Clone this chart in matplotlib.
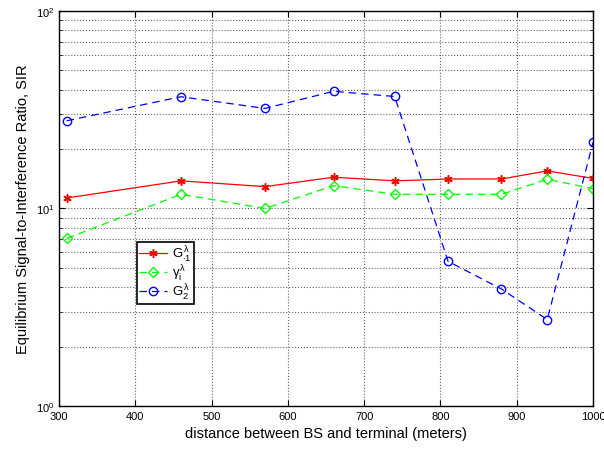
import numpy as np
import matplotlib
matplotlib.use("Agg")
import matplotlib.pyplot as plt
from matplotlib.ticker import LogLocator, NullFormatter, MultipleLocator

plt.rcParams['font.family'] = ['Liberation Sans', 'DejaVu Sans']
plt.rcParams['mathtext.fontset'] = 'custom'
plt.rcParams['mathtext.rm'] = 'Liberation Sans'
plt.rcParams['mathtext.it'] = 'Liberation Sans'

# --- DATA ---
distance = [310, 460, 570, 660, 740, 810, 880, 940, 1000]
sir_g1 = [11.3, 13.8, 12.9, 14.4, 13.8, 14.1, 14.1, 15.5, 14.2]
sir_gamma = [7.05, 11.8, 10.0, 13.05, 11.8, 11.8, 11.8, 14.05, 12.6]
sir_g2 = [27.8, 36.8, 32.1, 39.2, 36.9, 5.4, 3.91, 2.74, 21.6]
labels = [r'$G^{\lambda}_{\cdot 1}$', r'$\gamma_{\mathrm{i}}^{\lambda}$', r'$G^{\lambda}_{2}$']

fig = plt.figure(figsize=(6.04, 4.52), dpi=100)
ax = fig.add_axes([0.0977, 0.0996, 0.8841, 0.8739])

ax.semilogy(distance, sir_g1, color='red', linestyle='-', marker=(6, 2, 0),
            markersize=6, markeredgewidth=1.1, linewidth=0.9, label=labels[0])
ax.semilogy(distance, sir_gamma, color='#00ff00', linestyle='--', marker='D',
            markersize=5, markerfacecolor='none', linewidth=0.9, dashes=(6, 4),
            label=labels[1])
ax.semilogy(distance, sir_g2, color='blue', linestyle='--', marker='o',
            markersize=6, markerfacecolor='none', linewidth=0.9, dashes=(6, 4),
            label=labels[2])

ax.set_xlim(300, 1000)
ax.set_ylim(1, 100)
ax.xaxis.set_major_locator(MultipleLocator(100))
ax.yaxis.set_major_locator(LogLocator(base=10))
ax.yaxis.set_minor_locator(LogLocator(base=10, subs=np.arange(2, 10)))
ax.yaxis.set_minor_formatter(NullFormatter())

ax.grid(True, which='major', linestyle=':', color='0.4', linewidth=0.8)
ax.grid(True, which='minor', axis='y', linestyle=':', color='0.4', linewidth=0.8)

ax.tick_params(which='both', direction='in', top=True, right=True, labelsize=8)
ax.tick_params(which='major', length=4)
ax.tick_params(which='minor', length=2)
for s in ax.spines.values():
    s.set_linewidth(1.0)

ax.set_xlabel('distance between BS and terminal (meters)', fontsize=10.5)
ax.set_ylabel('Equilibrium Signal-to-Interference Ratio, SIR', fontsize=10.5)

leg = ax.legend(loc='upper left', bbox_to_anchor=(0.146, 0.415), fontsize=9.5,
                fancybox=False, edgecolor='black', framealpha=1,
                handlelength=2.1, borderpad=0.15, labelspacing=-0.1,
                handletextpad=0.4, borderaxespad=0)
leg.get_frame().set_linewidth(1.2)

fig.savefig('out.png', dpi=100)
